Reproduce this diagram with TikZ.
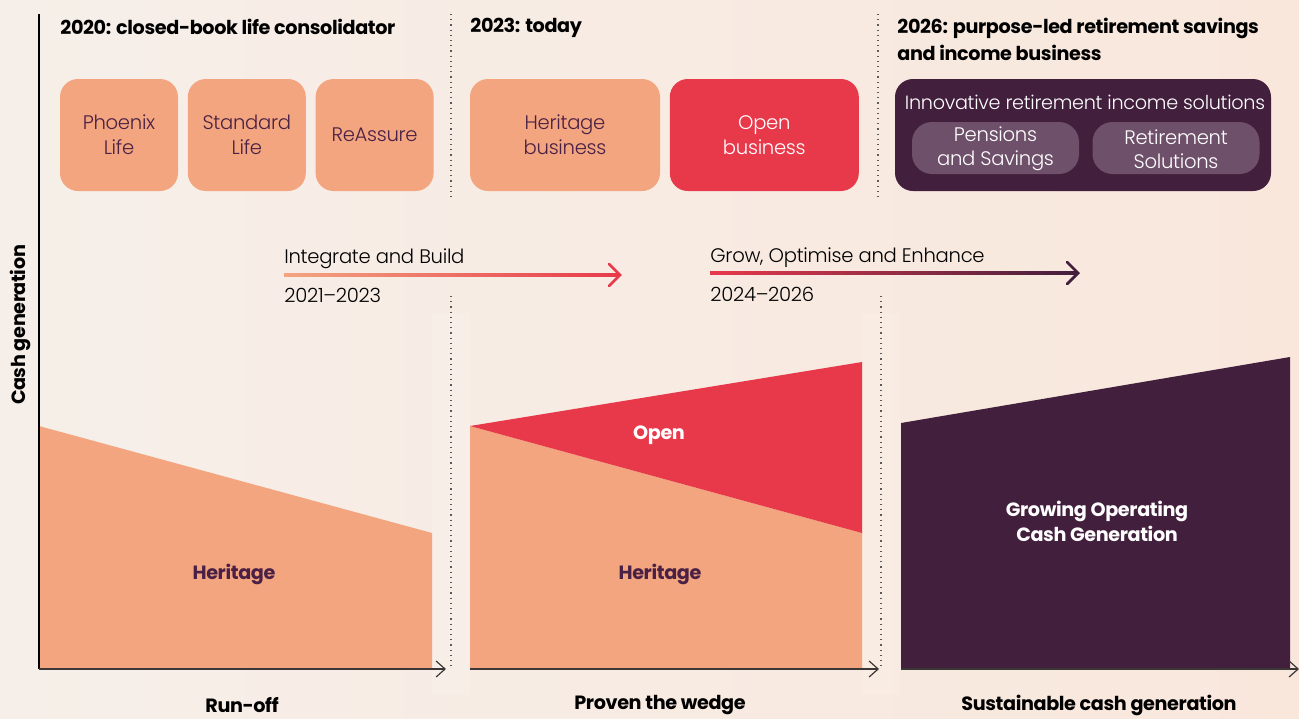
\documentclass[tikz,border=0pt]{standalone}
\usepackage{fontspec}
\setmainfont{Poppins}[LetterSpace=-2.0]
\newfontfamily\lightfont{Poppins Light}[LetterSpace=-1.5, Ligatures=TeX]
\usetikzlibrary{arrows.meta, calc, positioning, backgrounds}

\definecolor{bgleft}{RGB}{246,239,233}
\definecolor{bgright}{RGB}{249,231,220}
\definecolor{heritage}{RGB}{243,165,128}
\definecolor{openred}{RGB}{232,57,75}
\definecolor{plum}{RGB}{66,31,61}
\definecolor{pill}{RGB}{110,80,106}
\definecolor{plumtext}{RGB}{74,33,68}
\definecolor{axisgrey}{RGB}{60,55,55}

\tikzset{
  unitbox/.style={rounded corners=9pt, inner sep=0pt, align=center, minimum height=56pt,
    font=\lightfont\fontsize{9.8}{12.5}\selectfont},
  pillbox/.style={rounded corners=10pt, fill=pill, text=white, inner sep=0pt, align=center,
    minimum width=83.5pt, minimum height=26pt, font=\lightfont\fontsize{9.8}{12}\selectfont},
  era/.style={anchor=west, inner sep=0pt, align=left, font=\bfseries\fontsize{9.6}{13.5}\selectfont},
  phase/.style={anchor=west, inner sep=0pt, font=\lightfont\fontsize{9.8}{12}\selectfont},
  stage/.style={inner sep=0pt, font=\bfseries\fontsize{9.6}{12}\selectfont},
  axisline/.style={axisgrey, line width=0.6pt, -{Straight Barb[length=4.5pt, width=8pt]}},
  divider/.style={black!65, line width=0.6pt, dotted}
}

\begin{document}
\begin{tikzpicture}[x=0.5pt, y=-0.5pt]
\useasboundingbox (0,0) rectangle (1299,718);
\shade[left color=bgleft, right color=bgright] (0,0) rectangle (1299,718);

% faint strips behind the dividers
\fill[white, opacity=0.12] (432,313) rectangle (470,695);
\fill[white, opacity=0.12] (863,313) rectangle (900,695);

% headings
\node[era] (E1) at (60,27) {2020: closed-book life consolidator};
\node[era] (E2) at (470,28) {2023: today};
\node[era, anchor=north west] (E3) at (897,18) {2026: purpose-led retirement savings\\and income business};

% business units
\node[unitbox, fill=heritage, text=plumtext, minimum width=59pt] (phoenix) at (119,135) {Phoenix\\Life};
\node[unitbox, fill=heritage, text=plumtext, minimum width=59pt, right=4.5pt of phoenix] (standard) {Standard\\Life};
\node[unitbox, fill=heritage, text=plumtext, minimum width=59pt, right=4.5pt of standard] (reassure) {ReAssure};
\node[unitbox, fill=heritage, text=plumtext, minimum width=95pt] (herbiz) at (565,135) {Heritage\\business};
\node[unitbox, fill=openred, text=white, minimum width=94.5pt, right=4.5pt of herbiz] (openbiz) {Open\\business};
\node[unitbox, fill=plum, minimum width=188pt] (future) at (1083,135) {};
\node[inner sep=0pt, text=white, font=\lightfont\fontsize{9.6}{12}\selectfont] (innov) at (1085,102) {Innovative retirement income solutions};
\node[pillbox] (pensions) at (995.5,148) {\strut Pensions\\and Savings};
\node[pillbox] (retire) at (1176,148) {\strut Retirement\\Solutions};

% dividers
\draw[divider] (451,14) -- (451,200);
\draw[divider] (451,296) -- (451,669);
\draw[divider] (878,14) -- (878,200);
\draw[divider] (881,296) -- (881,669);

% phase arrows
\coordinate (IB1) at (284,275);
\coordinate (IB2) at (620,275);
\coordinate (GO1) at (710,273);
\coordinate (GO2) at (1078,273);
\shade[left color=heritage, right color=openred] ($(IB1)+(0,-1.4)$) rectangle ($(IB2)+(-1,1.4)$);
\draw[openred, line width=1.4pt, line cap=round, line join=miter] ($(IB2)+(-11,-11)$) -- (IB2) -- ($(IB2)+(-11,11)$);
\shade[left color=openred, right color=plum] ($(GO1)+(0,-1.4)$) rectangle ($(GO2)+(-1,1.4)$);
\draw[plum, line width=1.4pt, line cap=round, line join=miter] ($(GO2)+(-11,-11)$) -- (GO2) -- ($(GO2)+(-11,11)$);
\node[phase] (IBt) at (284,259) {Integrate and Build};
\node[phase] (IBy) at (284,295) {2021--2023};
\node[phase] (GOt) at (710,258) {Grow, Optimise and Enhance};
\node[phase] (GOy) at (710,294) {2024--2026};

% cash generation areas
\coordinate (A) at (39,426);
\coordinate (B) at (432,533);
\coordinate (C) at (432,669);
\coordinate (D) at (39,669);
\coordinate (A') at (470,426);
\coordinate (B') at (862,533);
\coordinate (C') at (862,669);
\coordinate (D') at (470,669);
\coordinate (T) at (862,362);
\coordinate (P) at (901,423);
\coordinate (Q) at (1290,357);
\coordinate (R) at (1290,669);
\coordinate (S) at (901,669);

\fill[heritage] (A) -- (B) -- (C) -- (D) -- cycle;
\fill[heritage] (A') -- (B') -- (C') -- (D') -- cycle;
\fill[openred] (A') -- (T) -- (B') -- cycle;
\fill[plum] (P) -- (Q) -- (R) -- (S) -- cycle;

\node[stage, text=plumtext] (her1) at (234,574) {Heritage};
\node[stage, text=plumtext] (her2) at (660,574) {Heritage};
\node[stage, text=white] (open) at (659,435) {Open};
\node[stage, text=white, align=center, font=\bfseries\fontsize{9.6}{12.5}\selectfont] (grow) at (1097,521) {Growing Operating\\Cash Generation};

% axes
\draw[black, line width=0.6pt] (39,14) -- (D);
\draw[axisline] (D) -- (446,669);
\draw[axisline] (D') -- (879,669);
\draw[axisline] (S) -- (1299,669);
\node[stage, rotate=90, text=black] (ylab) at (20,325) {Cash generation};

% stage names
\node[stage, text=black] (runoff) at (242,705) {Run-off};
\node[stage, text=black] (wedge) at (660,705) {Proven the wedge};
\node[stage, text=black] (sustain) at (1099,705) {Sustainable cash generation};
\end{tikzpicture}
\end{document}
